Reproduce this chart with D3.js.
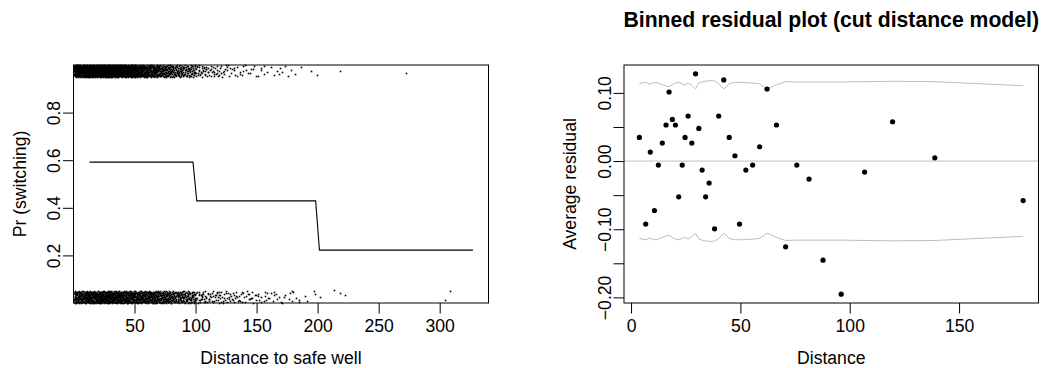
<!DOCTYPE html>
<html>
<head>
<meta charset="utf-8">
<script src="https://cdn.jsdelivr.net/npm/d3@7/dist/d3.min.js"></script>
<style>
  html, body { margin: 0; padding: 0; background: #ffffff; }
  svg { display: block; }
  text { font-family: "Liberation Sans", Arial, Helvetica, sans-serif; fill: #000; }
</style>
</head>
<body>
<svg id="chart" width="1047" height="368"></svg>
<script>
// ---------------- DATA ----------------
// Left panel: jittered binary outcome (switch) vs distance, counts per 10-unit distance bin
const binStarts      = [0,10,20,30,40,50,60,70,80,90,100,110,120,130,140,150,160,170,180,190];
const switchCounts   = [200,250,250,230,200,160,120,95,70,55,30,22,15,10,8,6,5,4,2,2];
const noSwitchCounts = [110,140,150,145,135,120,105,90,75,63,30,25,20,17,14,11,9,7,5,2];
// isolated far points [distance, jittered y]
const switchOutliers   = [[218.6, 0.976], [272.7, 0.968]];
const noSwitchOutliers = [[196.7, 0.049], [202.0, 0.025], [213.7, 0.053], [218.6, 0.042],
                          [222.7, 0.035], [304.7, 0.014], [308.2, 0.049]];
// fitted step curve (cut distance model) vertices [distance, Pr]
const fitCurve = [[13.1, 0.592], [97.9, 0.592], [101.0, 0.429], [198.4, 0.429],
                  [201.5, 0.222], [327.3, 0.222]];
const leftXTicks = [50, 100, 150, 200, 250, 300];
const leftYTicks = [0.2, 0.4, 0.6, 0.8];

// Right panel: binned residuals
const binDist = [3.8,6.7,8.8,10.7,12.5,14.3,16.0,17.4,18.9,20.3,21.8,23.4,24.7,26.1,27.8,29.5,
                 31.0,32.5,34.1,35.7,38.2,40.1,42.4,44.9,47.5,49.6,52.5,55.6,58.8,62.2,66.5,70.7,
                 75.8,81.4,87.8,96.1,106.8,119.6,138.9,179.3];
const binResid = [0.0347,-0.0925,0.0132,-0.0725,-0.0059,0.0264,0.0529,0.1013,0.0611,0.0529,
                  -0.0524,-0.0059,0.0347,0.0660,0.0264,0.1280,0.0479,-0.0132,-0.0524,-0.0323,
                  -0.0994,0.0660,0.1190,0.0347,0.0078,-0.0925,-0.0132,-0.0059,0.0210,0.1057,
                  0.0529,-0.1258,-0.0059,-0.0264,-0.1454,-0.1953,-0.0162,0.0577,0.0048,-0.0579];
const binBound = [0.1135,0.1155,0.1130,0.1155,0.1145,0.1120,0.1100,0.1090,0.1120,0.1145,
                  0.1155,0.1135,0.1115,0.1145,0.1110,0.1057,0.1145,0.1160,0.1170,0.1180,
                  0.1175,0.1135,0.1057,0.1135,0.1155,0.1155,0.1150,0.1145,0.1135,0.1057,
                  0.1120,0.1165,0.1160,0.1160,0.1160,0.1160,0.1165,0.1170,0.1165,0.1105];
const rightXTicks = [0, 50, 100, 150];
const rightYTicks = [-0.20,-0.15,-0.10,-0.05,0.00,0.05,0.10];
const rightYLabels = [-0.20,-0.10,0.00,0.10];

// ---------------- LAYOUT ----------------
const svg = d3.select("#chart");
const FS = 17.6;
const TICK = 10.5;
const pTop = 65, pBottom = 303;
const Lb = {l: 73.5, r: 488.5};
const Rb = {l: 624, r: 1038.5};

function fmtR(v) {
  const s = Math.abs(v).toFixed(2);
  return (v < -1e-9 ? "\u2212" : "") + s;
}

// radical-inverse (Halton) sequence, used only to spread jitter deterministically
function halton(i, base) {
  let f = 1, r = 0;
  while (i > 0) { f /= base; r += f * (i % base); i = Math.floor(i / base); }
  return r;
}

// ---------------- LEFT PANEL ----------------
const xL = d3.scaleLinear().domain([0, 340]).range([Lb.l, Lb.r]);
const yL = d3.scaleLinear().domain([0, 1]).range([pBottom, pTop]);

const gL = svg.append("g");
function binPoints(counts, isOne, seedOff) {
  const pts = [];
  let idx = seedOff;
  counts.forEach((n, b) => {
    for (let k = 0; k < n; k++) {
      idx++;
      const u = halton(idx, 2);
      const v = halton(idx, 3);
      const d = binStarts[b] + 10 * u;
      const j = 0.05 * v;
      pts.push([d, isOne ? 1 - j : j]);
    }
  });
  return pts;
}
const dots = binPoints(switchCounts, true, 17).concat(binPoints(noSwitchCounts, false, 5003))
  .concat(switchOutliers).concat(noSwitchOutliers)
  .filter(p => p[0] >= 0.4);
gL.append("g").selectAll("rect").data(dots).join("rect")
  .attr("x", d => Math.round(xL(d[0])) - 0.3)
  .attr("y", d => Math.round(yL(d[1])) - 0.3)
  .attr("width", 1.6).attr("height", 1.6)
  .attr("fill", "#000");

gL.append("path")
  .datum(fitCurve)
  .attr("d", d3.line().x(d => xL(d[0])).y(d => yL(d[1])))
  .attr("fill", "none").attr("stroke", "#000").attr("stroke-width", 1.1);

// axes
const axLx = gL.append("g").attr("transform", `translate(0,${pBottom})`)
  .call(d3.axisBottom(xL).tickValues(leftXTicks).tickSize(TICK).tickFormat(d3.format("d")));
const axLy = gL.append("g").attr("transform", `translate(${Lb.l},0)`)
  .call(d3.axisLeft(yL).tickValues(leftYTicks).tickSize(TICK).tickFormat(d3.format(".1f")));

gL.append("rect").attr("x", Lb.l).attr("y", pTop)
  .attr("width", Lb.r - Lb.l).attr("height", pBottom - pTop)
  .attr("fill", "none").attr("stroke", "#000").attr("stroke-width", 1);

gL.append("text").attr("x", (Lb.l + Lb.r) / 2).attr("y", 364)
  .attr("text-anchor", "middle").attr("font-size", FS).text("Distance to safe well");
gL.append("text").attr("transform", `translate(25.5,${(pTop + pBottom) / 2}) rotate(-90)`)
  .attr("text-anchor", "middle").attr("font-size", FS).text("Pr (switching)");

// ---------------- RIGHT PANEL ----------------
const xr = d3.extent(binDist);
const xe = (xr[1] - xr[0]) * 0.04;
const yvals = binResid.concat(binBound).concat(binBound.map(v => -v));
const yr = d3.extent(yvals);
const ye = (yr[1] - yr[0]) * 0.04;
const xR = d3.scaleLinear().domain([xr[0] - xe, xr[1] + xe]).range([Rb.l, Rb.r]);
const yR = d3.scaleLinear().domain([yr[0] - ye, yr[1] + ye]).range([pBottom, pTop]);

const gR = svg.append("g");
gR.append("line")
  .attr("x1", Rb.l).attr("x2", Rb.r).attr("y1", yR(0)).attr("y2", yR(0))
  .attr("stroke", "#bebebe").attr("stroke-width", 1);

const bandLine = d3.line().x(d => xR(d[0])).y(d => yR(d[1]));
gR.append("path").datum(binDist.map((d, i) => [d, binBound[i]]))
  .attr("d", bandLine).attr("fill", "none").attr("stroke", "#bebebe").attr("stroke-width", 1);
gR.append("path").datum(binDist.map((d, i) => [d, -binBound[i]]))
  .attr("d", bandLine).attr("fill", "none").attr("stroke", "#bebebe").attr("stroke-width", 1);

gR.append("g").selectAll("circle").data(binDist.map((d, i) => [d, binResid[i]])).join("circle")
  .attr("cx", d => xR(d[0])).attr("cy", d => yR(d[1])).attr("r", 2.6).attr("fill", "#000");

const axRx = gR.append("g").attr("transform", `translate(0,${pBottom})`)
  .call(d3.axisBottom(xR).tickValues(rightXTicks).tickSize(TICK).tickFormat(d3.format("d")));
const axRy = gR.append("g").attr("transform", `translate(${Rb.l},0)`)
  .call(d3.axisLeft(yR).tickValues(rightYTicks).tickSize(TICK)
    .tickFormat(d => rightYLabels.some(v => Math.abs(v - d) < 1e-9) ? fmtR(d) : ""));

gR.append("rect").attr("x", Rb.l).attr("y", pTop)
  .attr("width", Rb.r - Rb.l).attr("height", pBottom - pTop)
  .attr("fill", "none").attr("stroke", "#000").attr("stroke-width", 1);

gR.append("text").attr("x", (Rb.l + Rb.r) / 2).attr("y", 364)
  .attr("text-anchor", "middle").attr("font-size", FS).text("Distance");
gR.append("text").attr("transform", `translate(576,${(pTop + pBottom) / 2}) rotate(-90)`)
  .attr("text-anchor", "middle").attr("font-size", FS).text("Average residual");
gR.append("text").attr("x", (Rb.l + Rb.r) / 2).attr("y", 27)
  .attr("text-anchor", "middle").attr("font-size", 21.2).attr("font-weight", "bold")
  .text("Binned residual plot (cut distance model)");

// ---------------- AXIS STYLING (R look) ----------------
[axLx, axLy, axRx, axRy].forEach(a => {
  a.select(".domain").remove();
  a.selectAll(".tick line").attr("stroke", "#000").attr("stroke-width", 1);
  a.selectAll(".tick text").attr("font-size", FS)
    .attr("font-family", "'Liberation Sans', Arial, Helvetica, sans-serif").attr("fill", "#000");
});
[axLx, axRx].forEach(a => {
  a.selectAll(".tick text").attr("y", 29).attr("dy", 0);
});
[axLy, axRy].forEach(a => {
  a.selectAll(".tick text")
    .attr("x", null).attr("dy", 0).attr("y", null)
    .attr("text-anchor", "middle")
    .attr("transform", "translate(-13.5,0) rotate(-90)");
});
</script>
</body>
</html>
